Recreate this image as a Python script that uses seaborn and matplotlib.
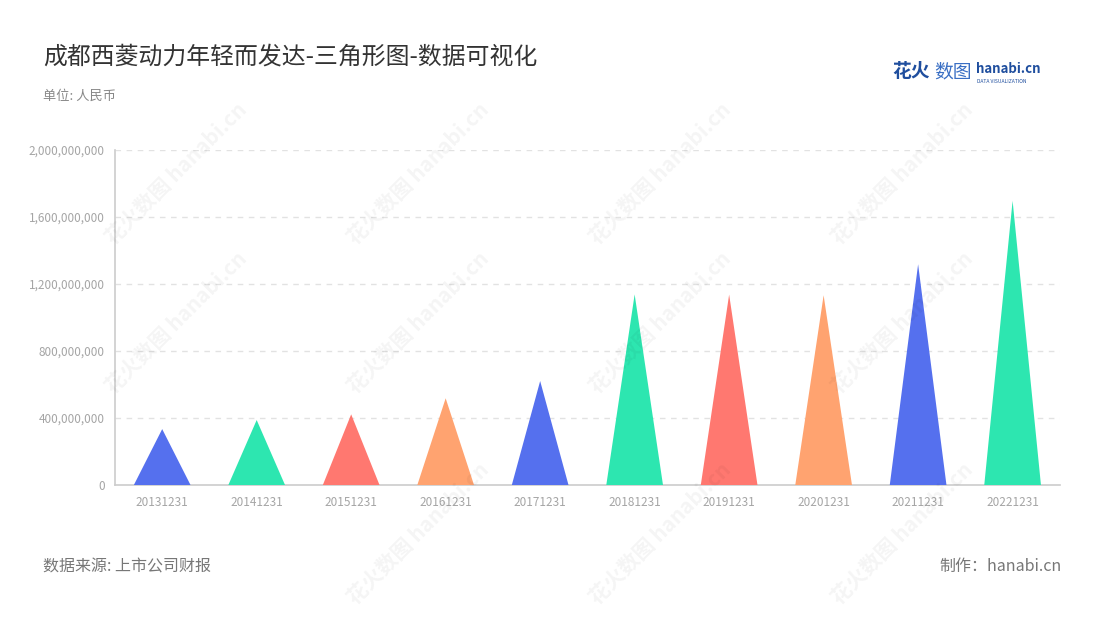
import numpy as np
import pandas as pd
import seaborn as sns
import matplotlib.pyplot as plt
from matplotlib.patches import Polygon

# data
dates = ['20131231', '20141231', '20151231', '20161231', '20171231',
         '20181231', '20191231', '20201231', '20211231', '20221231']
values = [334e6, 388e6, 422e6, 518e6, 621e6,
          1138e6, 1137e6, 1133e6, 1318e6, 1697e6]
palette = ['#5570EE', '#2DE6B0', '#FF7870', '#FFA370']
y_ticks = [0, 400e6, 800e6, 1200e6, 1600e6, 2000e6]


def main():
    sns.set_style('white')
    plt.rcParams['font.family'] = ['Noto Sans CJK SC', 'DejaVu Sans']

    df = pd.DataFrame({'date': dates, 'value': values})
    colors = [palette[i % len(palette)] for i in range(len(dates))]

    fig = plt.figure(figsize=(11, 6.2), dpi=100)
    ax = fig.add_axes([0.1045, 0.2177, 0.859, 0.5403])

    sns.barplot(data=df, x='date', y='value', hue='date', palette=colors,
                width=0.6, legend=False, ax=ax)

    # turn every bar into a triangle with the same base and height
    for patch, c in zip(list(ax.patches), colors):
        x0 = patch.get_x()
        w = patch.get_width()
        h = patch.get_height()
        tri = Polygon([(x0, 0), (x0 + w / 2, h), (x0 + w, 0)], closed=True,
                      facecolor=c, edgecolor='none', zorder=3)
        ax.add_patch(tri)
        patch.remove()

    ax.set_ylim(0, 2000e6)
    ax.set_xlim(-0.5, len(dates) - 0.5)
    ax.set_yticks(y_ticks)
    ax.set_yticklabels([f'{int(v):,}' for v in y_ticks])
    ax.set_xlabel('')
    ax.set_ylabel('')

    for y in y_ticks[1:]:
        ax.axhline(y, color='#e2e2e2', lw=1, ls=(0, (4, 4)), zorder=1)

    for s in ['top', 'right']:
        ax.spines[s].set_visible(False)
    for s in ['left', 'bottom']:
        ax.spines[s].set_color('#cccccc')
        ax.spines[s].set_linewidth(1.2)

    ax.tick_params(axis='both', colors='#cccccc', length=4, width=1,
                   labelcolor='#a5a5a5', labelsize=8.5)
    ax.tick_params(axis='x', pad=4)

    # faint watermarks
    for wx, wy in [(0.16, 0.72), (0.38, 0.72), (0.60, 0.72), (0.82, 0.72),
                   (0.16, 0.48), (0.38, 0.48), (0.60, 0.48), (0.82, 0.48),
                   (0.38, 0.14), (0.60, 0.14), (0.82, 0.14)]:
        fig.text(wx, wy, '花火数图 hanabi.cn', fontsize=15, color='#000000',
                 alpha=0.045, rotation=45, ha='center', va='center',
                 fontweight='bold', zorder=0)

    fig.text(0.039, 0.908, '成都西菱动力年轻而发达-三角形图-数据可视化',
             fontsize=17.2, color='#333333', va='center')
    fig.text(0.039, 0.845, '单位: 人民币', fontsize=9.5, color='#888888',
             va='center')
    fig.text(0.039, 0.086, '数据来源: 上市公司财报', fontsize=11.5,
             color='#777777', va='center')
    fig.text(0.965, 0.086, '制作：hanabi.cn', fontsize=11.5,
             color='#777777', va='center', ha='right')

    # logo
    fig.text(0.811, 0.884, '花火', fontsize=13.5, color='#1f4e9e',
             fontweight='bold', va='center')
    fig.text(0.849, 0.884, '数图', fontsize=13.5, color='#3a6fc4',
             va='center')
    fig.text(0.887, 0.889, 'hanabi.cn', fontsize=9.5, color='#1f4e9e',
             fontweight='bold', va='center')
    fig.text(0.888, 0.869, 'DATA VISUALIZATION', fontsize=3.6,
             color='#1f4e9e', va='center')

    fig.savefig('out.png', dpi=100)


if __name__ == '__main__':
    main()
